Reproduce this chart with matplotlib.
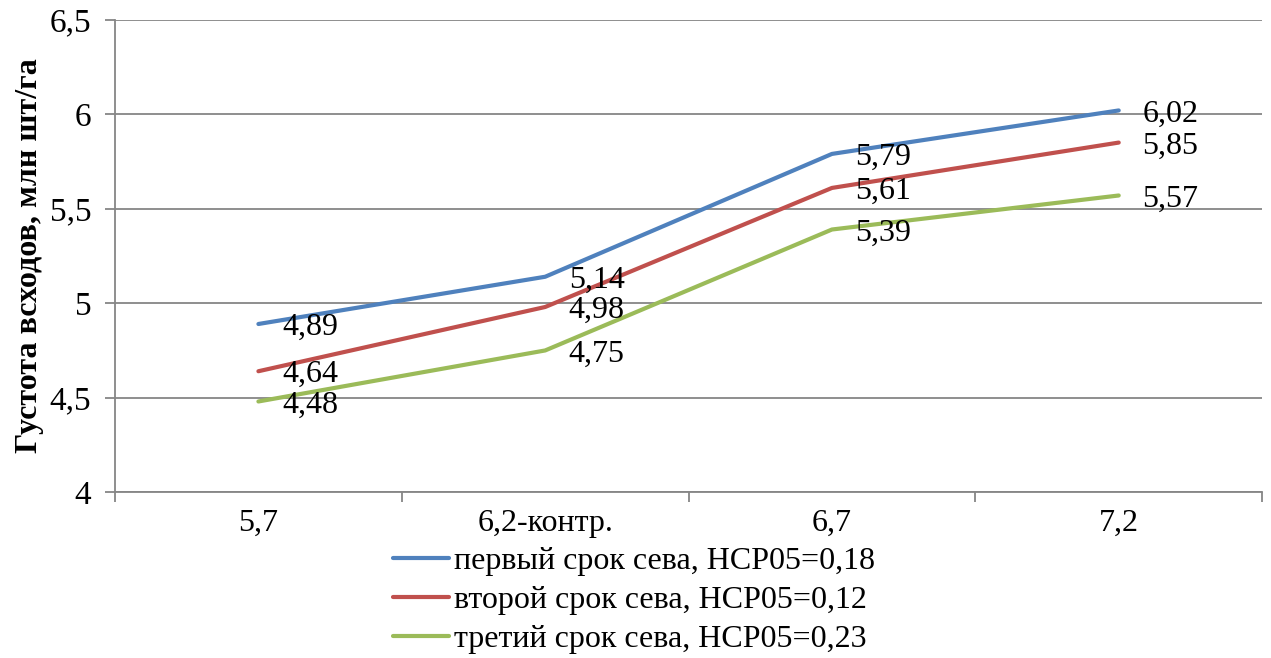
import matplotlib.pyplot as plt
from matplotlib.ticker import FixedLocator

plt.rcParams["font.family"] = ["Liberation Serif", "DejaVu Serif"]

categories = ["5,7", "6,2-контр.", "6,7", "7,2"]
first_sowing = [4.89, 5.14, 5.79, 6.02]
second_sowing = [4.64, 4.98, 5.61, 5.85]
third_sowing = [4.48, 4.75, 5.39, 5.57]
series_names = [
    "первый срок сева, НСР05=0,18",
    "второй срок сева, НСР05=0,12",
    "третий срок сева, НСР05=0,23",
]
y_ticks = [4, 4.5, 5, 5.5, 6, 6.5]
y_tick_labels = ["4", "4,5", "5", "5,5", "6", "6,5"]

colors = ["#4F81BD", "#C0504D", "#9BBB59"]
grid_color = "#868686"

fig = plt.figure(figsize=(12.71, 6.58), dpi=100)
ax = fig.add_axes([0.0905, 0.252, 0.9025, 0.718])

x = list(range(len(categories)))
for values, name, color in zip([first_sowing, second_sowing, third_sowing], series_names, colors):
    ax.plot(x, values, color=color, linewidth=3, solid_capstyle="round", label=name)
    for xi, v in zip(x, values):
        label = f"{v:.2f}".replace(".", ",")
        ax.annotate(label, (xi, v), xytext=(17, -2.5), textcoords="offset points",
                    ha="left", va="center", fontsize=23)

ax.set_xlim(-0.5, len(categories) - 0.5)
ax.set_ylim(4, 6.5)
ax.set_yticks(y_ticks)
ax.set_yticklabels(y_tick_labels, fontsize=24)
ax.set_xticks(x)
ax.set_xticklabels(categories, fontsize=23)
ax.tick_params(axis="x", which="major", length=0, pad=12)
ax.xaxis.set_minor_locator(FixedLocator([i - 0.5 for i in range(len(categories) + 1)]))
ax.tick_params(axis="x", which="minor", length=7, width=1.3, color=grid_color)
ax.tick_params(axis="y", length=7, width=1.3, color=grid_color, pad=10)

ax.grid(axis="y", color=grid_color, linewidth=1.3)
ax.set_axisbelow(True)
for side in ["top", "right"]:
    ax.spines[side].set_visible(False)
for side in ["left", "bottom"]:
    ax.spines[side].set_color(grid_color)
    ax.spines[side].set_linewidth(1.3)

ax.set_ylabel("Густота всходов, млн шт/га", fontsize=23, fontweight="bold", labelpad=4)

fig.legend(loc="center", bbox_to_anchor=(0.499, 0.088), frameon=False, fontsize=23,
           handlelength=1.75, handletextpad=0.15, labelspacing=0.3, borderpad=0)

fig.savefig("out.png", dpi=100)
